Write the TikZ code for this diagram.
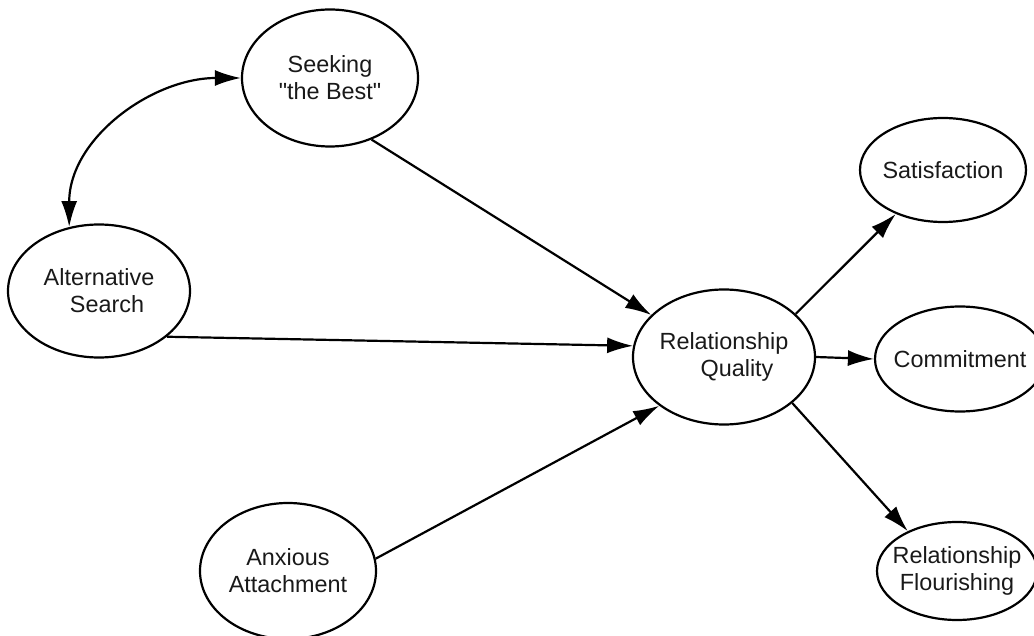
\documentclass[tikz,border=0pt]{standalone}
\usepackage{fontspec}
\setmainfont{Liberation Sans}
\usetikzlibrary{shapes.geometric, arrows.meta}

\begin{document}
\begin{tikzpicture}[
    x=0.5pt, y=-0.5pt,
    >={Latex[length=13pt, width=8pt]},
    every node/.style={
        ellipse,
        draw,
        line width=1.1pt,
        align=center,
        inner sep=-6pt,
        text=black!90,
        font=\fontsize{11.7}{13.5}\selectfont
    },
    link/.style={draw, line width=1.1pt, ->},
    construct/.style={minimum width=91pt, minimum height=67pt},
    outcome/.style={minimum width=83pt, minimum height=52pt}
]
\useasboundingbox (0,0) rectangle (1034,636);

% Predictors
\node[construct, minimum width=88pt, minimum height=68.5pt] (seek) at (330,78) {Seeking\\\textquotedbl the Best\textquotedbl};
\node[construct, minimum height=66.5pt] (alt) at (99,291) {Alternative\\\hspace*{8pt}Search};
\node[construct, minimum width=88pt, minimum height=68pt] (anx) at (288,571) {Anxious\\Attachment};

% Mediator
\node[construct, minimum height=67.5pt] (rq) at (724,357) {Relationship\\\hspace*{13pt}Quality};

% Outcomes
\node[outcome] (sat) at (943,170) {Satisfaction};
\node[outcome, minimum width=85pt, minimum height=52.5pt] (com) at (960,359) {Commitment};
\node[outcome, minimum width=80pt, minimum height=49pt] (flo) at (957,571) {Relationship\\Flourishing};

% Covariance
\draw[link, <->] (alt.115) to[out=90, in=180] (seek.west);

% Paths
\draw[link] (seek.-56) -- (rq.150);
\draw[link] (alt.-34) -- (rq.173);
\draw[link] (anx.8) -- (rq.217);
\draw[link] (rq.31) -- (sat.223);
\draw[link] (rq.east) -- (com.west);
\draw[link] (rq.-34) -- (flo.141);

\end{tikzpicture}
\end{document}
